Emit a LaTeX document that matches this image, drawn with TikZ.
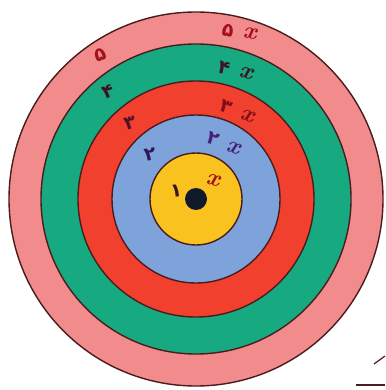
\documentclass[tikz,border=0pt]{standalone}
\usepackage{fontspec}
\newfontfamily\farsi[Script=Arabic]{DejaVu Sans Bold}
\definecolor{ringpink}{HTML}{F28B8C}
\definecolor{ringgreen}{HTML}{17A97F}
\definecolor{ringred}{HTML}{F2402F}
\definecolor{ringblue}{HTML}{7EA3DA}
\definecolor{ringyellow}{HTML}{F9C21F}
\definecolor{edge}{HTML}{4A1C1E}
\definecolor{dotc}{HTML}{111A2A}
\definecolor{inkred}{HTML}{A3101E}
\definecolor{inkdark}{HTML}{3C1428}
\definecolor{inkpurple}{HTML}{44207A}
\tikzset{
  ring/.style={draw=edge, line width=1.4pt},
  lab/.style={font=\farsi\fontsize{19}{19}\selectfont, inner sep=0pt},
  xlab/.style={font=\bfseries\itshape\fontsize{24}{24}\selectfont, inner sep=0pt}
}
\begin{document}
\begin{tikzpicture}[x=1pt,y=-1pt]
\useasboundingbox (0,0) rectangle (385,390);
\coordinate (c) at (196,199);
\fill[white] (0,0) rectangle (385,390);
\draw[ring, fill=ringpink] (c) circle (187);
\draw[ring, fill=ringgreen] (c) circle (155);
\draw[ring, fill=ringred] (c) circle (118);
\draw[ring, fill=ringblue] (c) circle (84);
\draw[ring, fill=ringyellow] (c) circle (46);
\fill[dotc] (c) circle (11);
% left labels
\node[lab, text=inkred, rotate=20] (l5) at (100,55) {۵};
\node[lab, text=inkdark, rotate=20] (l4) at (108,92) {۴};
\node[lab, text=inkdark!80!inkred, rotate=15] (l3) at (130,123) {۳};
\node[lab, text=inkpurple!70!black, rotate=10] (l2) at (150,155) {۲};
\node[lab, text=inkdark, rotate=5] (l1) at (176,191) {۱};
% right labels
\node[lab, text=inkred, rotate=-10] (r5d) at (228,31) {۵};
\node[xlab, text=inkred, rotate=-10] (r5x) at (250,33) {x};
\node[lab, text=inkdark, rotate=-15] (r4d) at (224,68) {۴};
\node[xlab, text=inkdark, rotate=-15] (r4x) at (246,73) {x};
\node[lab, text=inkred!80!black, rotate=-20] (r3d) at (226,107) {۳};
\node[xlab, text=inkred!80!black, rotate=-20] (r3x) at (248,116) {x};
\node[lab, text=inkpurple, rotate=-20] (r2d) at (213,139) {۲};
\node[xlab, text=inkpurple, rotate=-20] (r2x) at (234,148) {x};
\node[xlab, text=inkred, rotate=-15] (r1x) at (213,180) {x};
% fragments at lower right
\coordinate (f1) at (374,364);
\coordinate (f2) at (385,356);
\coordinate (f3) at (356,385);
\coordinate (f4) at (385,385);
\draw[edge, line width=1.2pt] (f1) -- (f2);
\draw[edge, line width=1.2pt] (f3) -- (f4);
\end{tikzpicture}
\end{document}
